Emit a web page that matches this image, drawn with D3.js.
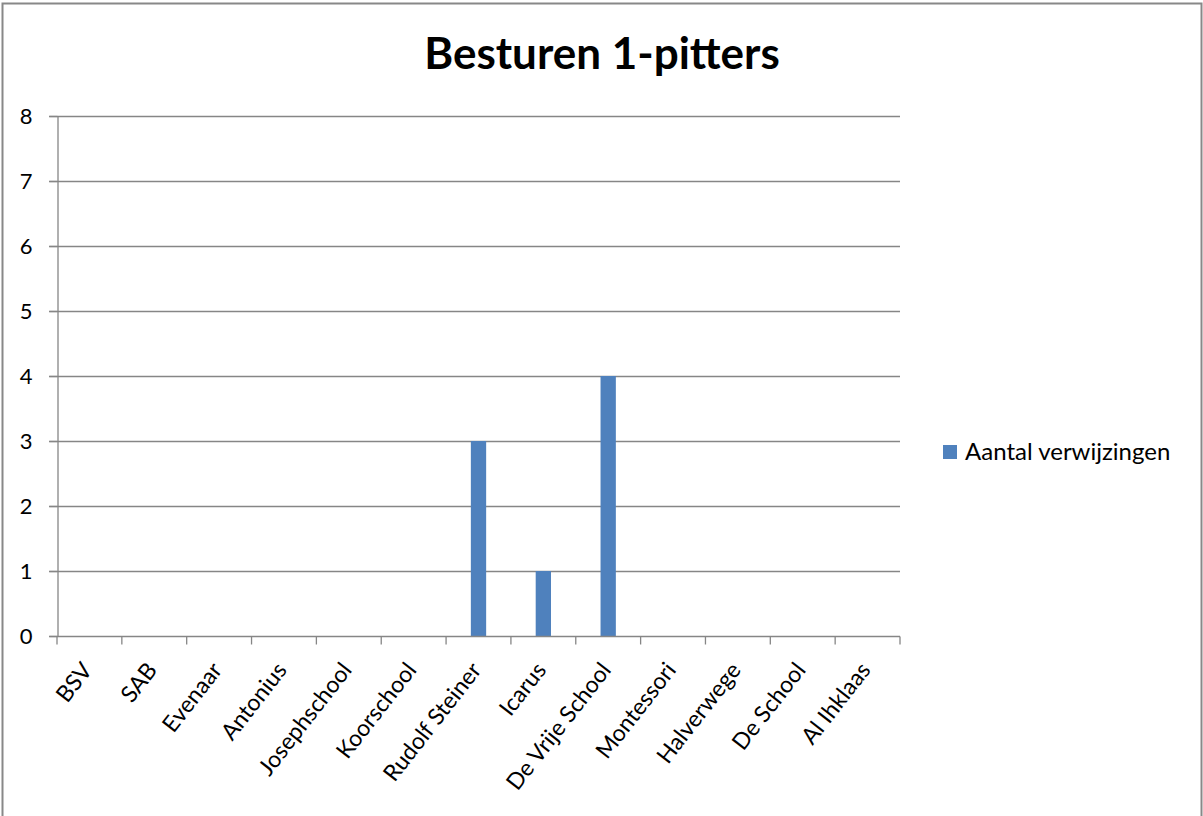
<!DOCTYPE html>
<html>
<head>
	<meta charset="UTF-8" />
	<title>Besturen 1-pitters</title>
	<script src="https://d3js.org/d3.v7.min.js"></script>
	<style>
		body { margin: 0; background: #fff; }
		text { font-family: Lato, "Open Sans", sans-serif; fill: #000; }
	</style>
</head>
<body>
	<div id="main"></div>
	<script type="text/javascript">
		var schools = ['BSV', 'SAB', 'Evenaar', 'Antonius', 'Josephschool', 'Koorschool', 'Rudolf Steiner',
			'Icarus', 'De Vrije School', 'Montessori', 'Halverwege', 'De School', 'Al Ihklaas'];
		var verwijzingen = [0, 0, 0, 0, 0, 0, 3, 1, 4, 0, 0, 0, 0];
		var yTicks = [0, 1, 2, 3, 4, 5, 6, 7, 8];
		var seriesName = 'Aantal verwijzingen';
		var title = 'Besturen 1-pitters';

		var width = 1203, height = 816;
		var margin = { top: 116, left: 57, right: 303, bottom: 180 };
		var gridColor = '#868686';

		var svg = d3.select('#main').append('svg').attr('width', width).attr('height', height);

		// outer chart border
		svg.append('rect').attr('x', 2.5).attr('y', 3.5).attr('width', 1199).attr('height', 830)
			.attr('fill', 'none').attr('stroke', '#888').attr('stroke-width', 2);

		var x = d3.scaleBand().domain(schools).range([margin.left, width - margin.right]).paddingInner(0).paddingOuter(0);
		var y = d3.scaleLinear().domain([0, 8]).range([636, margin.top]);

		// gridlines
		svg.append('g').selectAll('line').data(yTicks.filter(d => d > 0)).enter()
			.append('line')
			.attr('x1', x.range()[0] - 8).attr('x2', x.range()[1])
			.attr('y1', d => Math.round(y(d)) + 0.5).attr('y2', d => Math.round(y(d)) + 0.5)
			.attr('stroke', gridColor).attr('stroke-width', 1.3);

		// bars
		var barW = x.bandwidth() * 0.236;
		svg.append('g').selectAll('rect').data(verwijzingen).enter()
			.append('rect')
			.attr('x', (d, i) => x(schools[i]) + x.bandwidth() / 2 - barW / 2)
			.attr('y', d => y(d))
			.attr('width', barW)
			.attr('height', d => y(0) - y(d))
			.attr('fill', '#4F81BD');

		// y axis
		var yAxis = svg.append('g').attr('transform', 'translate(' + (margin.left + 0.5) + ',0)')
			.call(d3.axisLeft(y).tickValues(yTicks).tickSize(8).tickPadding(17).tickSizeOuter(0));
		yAxis.selectAll('text').attr('font-size', 22).attr('dy', '0.36em').style('font-family', 'Lato, sans-serif');
		yAxis.select('.domain').attr('stroke', gridColor).attr('stroke-width', 1.3);
		yAxis.selectAll('.tick line').attr('stroke', gridColor).attr('stroke-width', 1.3);

		// x axis
		var xAxis = svg.append('g').attr('transform', 'translate(0,' + (Math.round(y(0)) + 0.5) + ')');
		xAxis.append('line').attr('x1', x.range()[0] - 8).attr('x2', x.range()[1]).attr('stroke', gridColor).attr('stroke-width', 1.3);
		var bounds = schools.map(s => x(s)).concat([x.range()[1]]);
		xAxis.selectAll('line.tick').data(bounds).enter()
			.append('line').attr('class', 'tick')
			.attr('x1', d => d).attr('x2', d => d).attr('y1', 0).attr('y2', 8)
			.attr('stroke', gridColor).attr('stroke-width', 1.3);
		xAxis.selectAll('text').data(schools).enter()
			.append('text')
			.attr('transform', d => 'translate(' + (x(d) + x.bandwidth() / 2 + 4) + ',34) rotate(-52)')
			.attr('text-anchor', 'end')
			.attr('font-size', 23)
			.text(d => d);

		// title
		svg.append('text').attr('x', 602).attr('y', 69).attr('text-anchor', 'middle')
			.attr('font-size', 44).attr('font-weight', 'bold').text(title);

		// legend
		var legend = svg.append('g').attr('transform', 'translate(943,445)');
		legend.append('rect').attr('width', 14).attr('height', 14).attr('fill', '#4F81BD');
		legend.append('text').attr('x', 22).attr('y', 15).attr('font-size', 24).text(seriesName);
	</script>
</body>
</html>
